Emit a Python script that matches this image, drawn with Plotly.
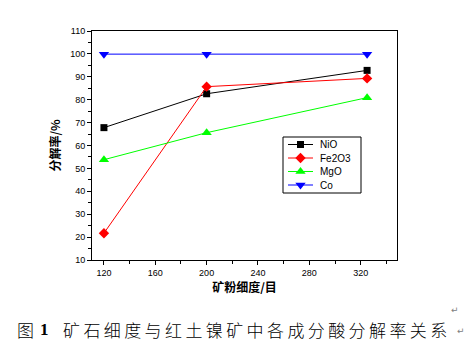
import plotly.graph_objects as go

# Ore fineness (mesh) and acid decomposition rate (%) of each component
mesh = [120, 200, 325]
nio = [67.8, 82.6, 92.8]
fe2o3 = [21.7, 85.7, 89.3]
mgo = [53.8, 65.6, 80.9]
co = [99.9, 99.9, 99.9]

series = [
    ("NiO", nio, "#000000", "square", 7),
    ("Fe2O3", fe2o3, "#ff0000", "diamond", 8),
    ("MgO", mgo, "#00ff00", "triangle-up", 9),
    ("Co", co, "#0000ff", "triangle-down", 9),
]

fig = go.Figure()
for name, vals, color, sym, size in series:
    fig.add_trace(go.Scatter(
        x=mesh, y=vals, name=name, mode="lines+markers",
        line=dict(color=color, width=1),
        marker=dict(symbol=sym, size=size, color=color),
        showlegend=False,
    ))

# Compact legend drawn on a pixel-unit overlay axis
W, H = 468, 349
L, R, T, B = 92, 71, 31, 89
box = dict(x0=283, x1=361, y0=137, y1=193)
row_y = [144.5, 158, 171.5, 185]
line_x = (288, 313)
text_x = 318
for (name, _, color, sym, size), yc in zip(series, row_y):
    fig.add_trace(go.Scatter(
        x=[line_x[0], line_x[1]], y=[yc, yc], mode="lines",
        line=dict(color=color, width=1), xaxis="x2", yaxis="y2",
        showlegend=False, hoverinfo="skip",
    ))
    fig.add_trace(go.Scatter(
        x=[(line_x[0] + line_x[1]) / 2], y=[yc], mode="markers",
        marker=dict(symbol=sym, size=size, color=color), xaxis="x2", yaxis="y2",
        showlegend=False, hoverinfo="skip",
    ))
    fig.add_annotation(
        xref="x2", yref="y2", x=text_x, y=yc, xanchor="left", yanchor="middle",
        showarrow=False, text=name,
        font=dict(family="Liberation Sans, Arial, sans-serif", size=10, color="#000000"),
    )
fig.add_shape(type="rect", xref="x2", yref="y2",
              x0=box["x0"], x1=box["x1"], y0=box["y0"], y1=box["y1"],
              line=dict(color="#000000", width=1), fillcolor="rgba(0,0,0,0)", layer="above")

tick_font = dict(family="Liberation Sans, Arial, sans-serif", size=9, color="#000000")
cjk_bold = dict(family="Noto Sans CJK SC", size=12, color="#000000", weight="bold")

fig.update_layout(
    width=W, height=H,
    margin=dict(l=L, r=R, t=T, b=B),
    paper_bgcolor="white", plot_bgcolor="white",
    showlegend=False,
    xaxis=dict(
        range=[110.7, 348.3], tick0=120, dtick=40,
        showgrid=False, zeroline=False,
        showline=True, linecolor="#000000", linewidth=1, mirror=True,
        ticks="outside", ticklen=4, tickcolor="#000000", tickwidth=1,
        minor=dict(dtick=20, ticks="outside", ticklen=3, tickcolor="#000000", showgrid=False),
        tickfont=tick_font,
        title=dict(text="矿粉细度/目", font=dict(family="Noto Sans CJK SC", size=12, color="#000000", weight="bold"), standoff=4),
    ),
    yaxis=dict(
        range=[10, 110], dtick=10,
        showgrid=False, zeroline=False,
        showline=True, linecolor="#000000", linewidth=1, mirror=True,
        ticks="outside", ticklen=4, tickcolor="#000000", tickwidth=1,
        minor=dict(dtick=5, ticks="outside", ticklen=3, tickcolor="#000000", showgrid=False),
        tickfont=tick_font,
        title=dict(text="分解率/%", font=cjk_bold, standoff=6),
    ),
    xaxis2=dict(range=[L, W - R], overlaying="x", visible=False, fixedrange=True),
    yaxis2=dict(range=[H - B, T], overlaying="y", visible=False, fixedrange=True),
)

# Figure caption below the chart
caption_rest = "\u2009".join("矿石细度与红土镍矿中各成分酸分解率关系")
cap_y = (260 - 329) / 229
fig.add_annotation(
    xref="paper", yref="paper", x=(15 - 92) / 305, y=cap_y,
    xanchor="left", yanchor="middle", showarrow=False,
    text="图", font=dict(family="Noto Sans CJK SC", size=17, color="#000000", weight=300),
)
fig.add_annotation(
    xref="paper", yref="paper", x=(38 - 92) / 305, y=cap_y,
    xanchor="left", yanchor="middle", showarrow=False,
    text="<b>1</b>", font=dict(family="Liberation Serif, serif", size=17, color="#000000"),
)
fig.add_annotation(
    xref="paper", yref="paper", x=(61 - 92) / 305, y=cap_y,
    xanchor="left", yanchor="middle", showarrow=False,
    text=caption_rest, font=dict(family="Noto Sans CJK SC", size=17, color="#000000", weight=300),
)
# Paragraph marks
for px, py in [(455, 310), (461, 331)]:
    fig.add_annotation(
        xref="paper", yref="paper", x=(px - 92) / 305, y=(260 - py) / 229,
        xanchor="center", yanchor="middle", showarrow=False,
        text="↵", font=dict(family="DejaVu Sans", size=9, color="#808080"),
    )

fig.write_html("out.html")
